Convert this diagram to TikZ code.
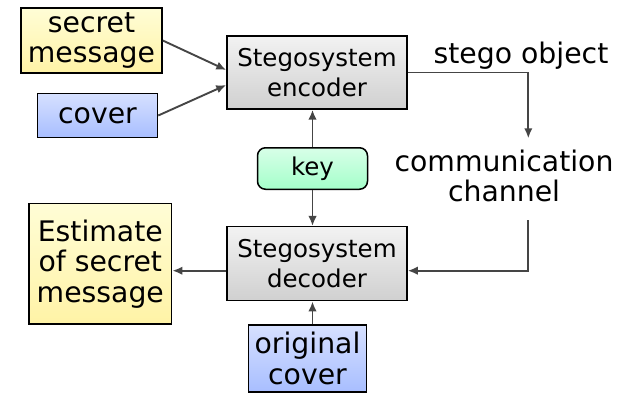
\documentclass[tikz,border=0pt]{standalone}
\usepackage{fontspec}
\setmainfont{DejaVu Sans}
\usetikzlibrary{arrows.meta}
\definecolor{flowgray}{HTML}{454545}
\definecolor{msgtop}{HTML}{FFFDD6}
\definecolor{msgbot}{HTML}{FFF3A6}
\definecolor{covtop}{HTML}{D6E0FF}
\definecolor{covbot}{HTML}{A8BEFF}
\definecolor{keytop}{HTML}{D8FFE8}
\definecolor{keybot}{HTML}{A4FFCA}
\definecolor{stgtop}{HTML}{F2F2F2}
\definecolor{stgbot}{HTML}{D0D0D0}
\def\bigfont{\fontsize{28.3}{30.5}\selectfont}
\def\boxfont{\fontsize{24.5}{30}\selectfont}
\def\drawflow{\draw[color=flowgray, line width=1.9pt, -{Latex[length=10pt,width=8.5pt]}]}
\def\boxnode{\node[draw=black, line width=1.5pt, inner sep=0pt, align=center]}

\begin{document}
\begin{tikzpicture}[x=1pt,y=-1pt,
  msgbox/.style={top color=msgtop, bottom color=msgbot, font=\bigfont},
  coverbox/.style={top color=covtop, bottom color=covbot, font=\bigfont},
  stegobox/.style={top color=stgtop, bottom color=stgbot, font=\boxfont},
  keybox/.style={top color=keytop, bottom color=keybot, font=\boxfont, rounded corners=8pt},
  label/.style={font=\bigfont, align=center, inner sep=0pt}]
\useasboundingbox (0,0) rectangle (623,393);
\boxnode[msgbox, minimum width=141pt, minimum height=65pt] (msg) at (91.5,40.5) {secret\\message};
\boxnode[coverbox, minimum width=120pt, minimum height=44pt] (cover) at (97.5,115.5) {cover};
\boxnode[stegobox, minimum width=180pt, minimum height=73pt] (enc) at (317,72.5) {Stegosystem\\encoder};
\boxnode[keybox, minimum width=110pt, minimum height=41.5pt] (key) at (312.5,168.5) {key};
\boxnode[stegobox, minimum width=180pt, minimum height=74pt] (dec) at (317,263.7) {Stegosystem\\decoder};
\boxnode[msgbox, minimum width=142.7pt, minimum height=120.7pt] (est) at (100.3,263.7) {Estimate\\of secret\\message};
\boxnode[coverbox, minimum width=118.4pt, minimum height=66.7pt] (orig) at (307.5,358.5) {original\\cover};
\node[label, anchor=base] (stego) at (521,63.3) {stego object};
\node[label] (chan) at (504,176) {communication\\channel};
\coordinate (chin) at (528.3,138.3);
\coordinate (chout) at (528.3,220);
\drawflow (msg.east) -- ([yshift=2.5pt]enc.west);
\drawflow (cover.east) -- ([yshift=-12.5pt]enc.west);
\drawflow (key.north) -- (key.north |- enc.south);
\drawflow (key.south) -- (key.south |- dec.north);
\drawflow (enc.east) -| (chin);
\drawflow (chout) |- ([yshift=-7pt]dec.east);
\drawflow ([yshift=-7pt]dec.west) -- ([yshift=-7pt]dec.west -| est.east);
\drawflow (orig.north -| key.south) -- (key.south |- dec.south);
\end{tikzpicture}
\end{document}
